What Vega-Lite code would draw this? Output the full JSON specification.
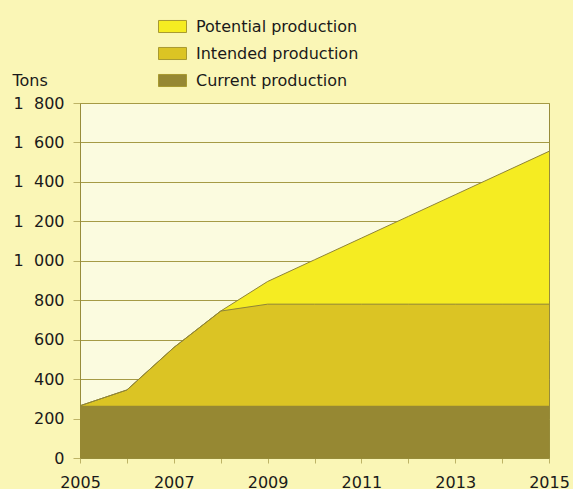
{
  "$schema": "https://vega.github.io/schema/vega-lite/v6.json",
  "width": 469,
  "height": 355,
  "autosize": {"type": "none"},
  "padding": {"left": 80, "top": 103, "right": 24, "bottom": 31},
  "background": "#faf6b6",
  "config": {
    "font": "DejaVu Sans",
    "view": {"fill": "#fbfbdf", "stroke": "#978c3a", "strokeWidth": 1},
    "axis": {"labelColor": "#1a1a1a", "titleColor": "#1a1a1a", "labelFontSize": 16, "titleFontSize": 16, "titleFontWeight": "normal", "domainColor": "#978c3a", "tickColor": "#bdb366", "gridColor": "#a59a45", "gridOpacity": 1}
  },
  "datasets": {
    "prod": [
      {"year": 2005, "series": "Potential production", "value": 265},
      {"year": 2006, "series": "Potential production", "value": 345},
      {"year": 2007, "series": "Potential production", "value": 560},
      {"year": 2008, "series": "Potential production", "value": 745},
      {"year": 2009, "series": "Potential production", "value": 895},
      {"year": 2010, "series": "Potential production", "value": 1005},
      {"year": 2011, "series": "Potential production", "value": 1115},
      {"year": 2012, "series": "Potential production", "value": 1225},
      {"year": 2013, "series": "Potential production", "value": 1335},
      {"year": 2014, "series": "Potential production", "value": 1445},
      {"year": 2015, "series": "Potential production", "value": 1555},
      {"year": 2005, "series": "Intended production", "value": 265},
      {"year": 2006, "series": "Intended production", "value": 345},
      {"year": 2007, "series": "Intended production", "value": 560},
      {"year": 2008, "series": "Intended production", "value": 745},
      {"year": 2009, "series": "Intended production", "value": 780},
      {"year": 2010, "series": "Intended production", "value": 780},
      {"year": 2011, "series": "Intended production", "value": 780},
      {"year": 2012, "series": "Intended production", "value": 780},
      {"year": 2013, "series": "Intended production", "value": 780},
      {"year": 2014, "series": "Intended production", "value": 780},
      {"year": 2015, "series": "Intended production", "value": 780},
      {"year": 2005, "series": "Current production", "value": 265},
      {"year": 2006, "series": "Current production", "value": 265},
      {"year": 2007, "series": "Current production", "value": 265},
      {"year": 2008, "series": "Current production", "value": 265},
      {"year": 2009, "series": "Current production", "value": 265},
      {"year": 2010, "series": "Current production", "value": 265},
      {"year": 2011, "series": "Current production", "value": 265},
      {"year": 2012, "series": "Current production", "value": 265},
      {"year": 2013, "series": "Current production", "value": 265},
      {"year": 2014, "series": "Current production", "value": 265},
      {"year": 2015, "series": "Current production", "value": 265}
    ]
  },
  "data": {"name": "prod"},
  "encoding": {
    "x": {
      "field": "year", "type": "quantitative",
      "scale": {"domain": [2005, 2015], "nice": false, "zero": false},
      "axis": {"title": null, "values": [2005,2006,2007,2008,2009,2010,2011,2012,2013,2014,2015], "labelExpr": "datum.value % 2 == 1 ? format(datum.value, 'd') : ''", "tickSize": 5, "labelPadding": 11, "grid": false, "domain": true, "labelFlush": false, "labelOverlap": false}
    },
    "y": {
      "field": "value", "type": "quantitative", "stack": null,
      "scale": {"domain": [0, 1800], "nice": false},
      "axis": {"title": "Tons", "titleAngle": 0, "titleAlign": "left", "titleBaseline": "alphabetic", "titleX": -68, "titleY": -18, "values": [0,200,400,600,800,1000,1200,1400,1600,1800], "labelExpr": "replace(format(datum.value, ','), ',', '\u2007')", "tickSize": 7, "labelPadding": 9, "grid": true}
    }
  },
  "layer": [
    {
      "transform": [{"filter": "datum.series == 'Potential production'"}],
      "mark": {"type": "area", "opacity": 1},
      "encoding": {
        "color": {
          "field": "series", "type": "nominal",
          "scale": {"domain": ["Potential production", "Intended production", "Current production"], "range": ["#f5ec22", "#dbc424", "#968833"]},
          "legend": {"title": null, "orient": "none", "legendX": 78, "legendY": -91, "labelFontSize": 16, "labelColor": "#1a1a1a", "labelLimit": 400, "symbolType": "M-1,-0.43L1,-0.43L1,0.43L-1,0.43Z", "symbolSize": 784, "symbolStrokeColor": "#a89a30", "symbolStrokeWidth": 1, "symbolOpacity": 1, "labelOffset": 9, "rowPadding": 4, "padding": 0}
        }
      }
    },
    {
      "transform": [{"filter": "datum.series == 'Intended production'"}],
      "mark": {"type": "area", "opacity": 1},
      "encoding": {"color": {"field": "series", "type": "nominal"}}
    },
    {
      "transform": [{"filter": "datum.series == 'Current production'"}],
      "mark": {"type": "area", "opacity": 1},
      "encoding": {"color": {"field": "series", "type": "nominal"}}
    },
    {
      "transform": [{"filter": "datum.series != 'Current production'"}],
      "mark": {"type": "line", "color": "#8f8438", "strokeWidth": 1},
      "encoding": {"detail": {"field": "series"}}
    }
  ]
}
